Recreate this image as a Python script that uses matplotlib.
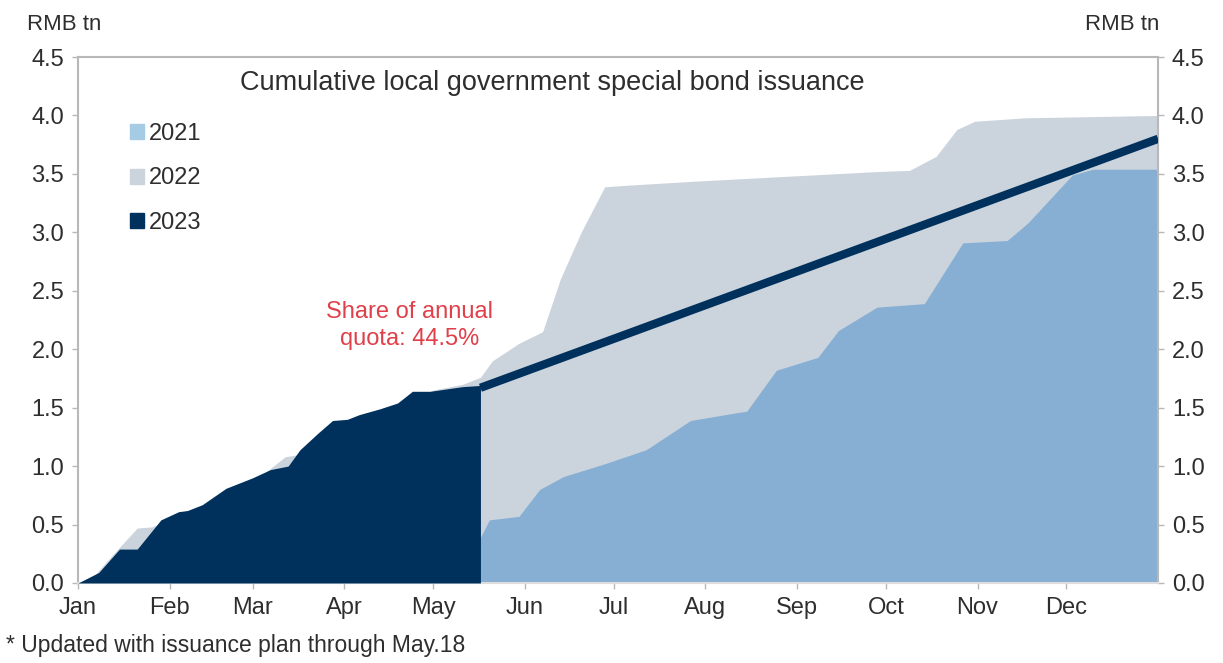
import matplotlib.pyplot as plt
from matplotlib.patches import Patch

plt.rcParams['font.family'] = ['Liberation Sans', 'DejaVu Sans']

# day of year -> cumulative issuance, RMB tn
days_2021 = [0, 40, 60, 90, 120, 136, 139, 149, 156, 164, 178, 192, 207, 221, 226, 236, 250,
             257, 270, 286, 299, 314, 321, 336, 343, 365]
vals_2021 = [0.0, 0.02, 0.05, 0.1, 0.25, 0.39, 0.54, 0.57, 0.8, 0.91, 1.02, 1.14, 1.39, 1.45,
             1.47, 1.82, 1.93, 2.16, 2.36, 2.39, 2.91, 2.93, 3.08, 3.49, 3.54, 3.54]

days_2022 = [0, 5, 12, 20, 25, 32, 45, 60, 66, 70, 75, 88, 100, 110, 120, 130, 136, 140, 149,
             157, 163, 170, 178, 190, 210, 240, 270, 281, 290, 297, 303, 320, 365]
vals_2022 = [0.0, 0.05, 0.25, 0.47, 0.48, 0.55, 0.65, 0.88, 1.0, 1.08, 1.1, 1.38, 1.45, 1.55,
             1.65, 1.7, 1.76, 1.9, 2.05, 2.15, 2.6, 3.0, 3.39, 3.41, 3.44, 3.48, 3.52, 3.53,
             3.65, 3.88, 3.95, 3.98, 4.0]

days_2023 = [0, 7, 14, 20, 28, 34, 37, 42, 50, 55, 59, 65, 71, 75, 81, 86, 91, 95, 102, 108,
             113, 119, 130, 136]
vals_2023 = [0.0, 0.09, 0.29, 0.29, 0.54, 0.61, 0.62, 0.67, 0.81, 0.86, 0.9, 0.97, 1.0, 1.14,
             1.28, 1.39, 1.4, 1.44, 1.49, 1.54, 1.64, 1.64, 1.68, 1.69]

# linear path to the annual quota
quota_days = [136, 365]
quota_vals = [1.67, 3.8]

month_starts = [0, 31, 59, 90, 120, 151, 181, 212, 243, 273, 304, 334]
month_labels = ['Jan', 'Feb', 'Mar', 'Apr', 'May', 'Jun', 'Jul', 'Aug', 'Sep', 'Oct', 'Nov', 'Dec']

c21 = '#86AFD3'
c22 = '#CBD4DD'
c23 = '#00305C'
grey = '#B8B8B8'
txt = '#2E2E2E'

fig = plt.figure(figsize=(12.23, 6.63), dpi=100)
ax = fig.add_axes([0.0638, 0.1207, 0.8831, 0.7933])

ax.fill_between(days_2022, 0, vals_2022, color=c22, lw=0, zorder=1)
ax.fill_between(days_2021, 0, vals_2021, color=c21, lw=0, zorder=2)
ax.fill_between(days_2023, 0, vals_2023, color=c23, lw=0, zorder=3)
ax.plot(quota_days, quota_vals, color=c23, lw=6, solid_capstyle='butt', zorder=4)

ax.set_xlim(0, 365)
ax.set_ylim(0, 4.5)
ax.set_xticks(month_starts)
ax.set_xticklabels(month_labels)
ax.set_yticks([i * 0.5 for i in range(10)])
ax.set_yticklabels(['%.1f' % (i * 0.5) for i in range(10)])
ax.tick_params(axis='both', labelsize=17, colors=grey, labelcolor=txt, length=4, width=1)
ax.tick_params(axis='y', right=True, labelright=True, pad=6)
ax.tick_params(axis='x', pad=6)
for s in ax.spines.values():
    s.set_color(grey)
    s.set_linewidth(1.5)
ax.spines['bottom'].set_color('#DDDDDD')

ax.text(0.439, 0.975, 'Cumulative local government special bond issuance', transform=ax.transAxes,
        ha='center', va='top', fontsize=19.5, color=txt)
ax.text(112, 2.2, 'Share of annual\nquota: 44.5%', ha='center', va='center', fontsize=17,
        color='#E0404A', linespacing=1.3)

fig.text(0.022, 0.963, 'RMB tn', fontsize=16, color=txt, va='center')
fig.text(0.948, 0.963, 'RMB tn', fontsize=16, color=txt, va='center', ha='right')
fig.text(0.005, 0.027, '* Updated with issuance plan through May.18', fontsize=16.5, color=txt,
         va='center')

handles = [Patch(color='#A6CBE5', label='2021'), Patch(color=c22, label='2022'),
           Patch(color=c23, label='2023')]
ax.legend(handles=handles, loc='upper left', bbox_to_anchor=(0.028, 0.915), frameon=False,
          fontsize=17, handlelength=0.6, handleheight=0.6, handletextpad=0.2,
          labelspacing=0.95, labelcolor=txt)

fig.savefig('out.png', dpi=100)
